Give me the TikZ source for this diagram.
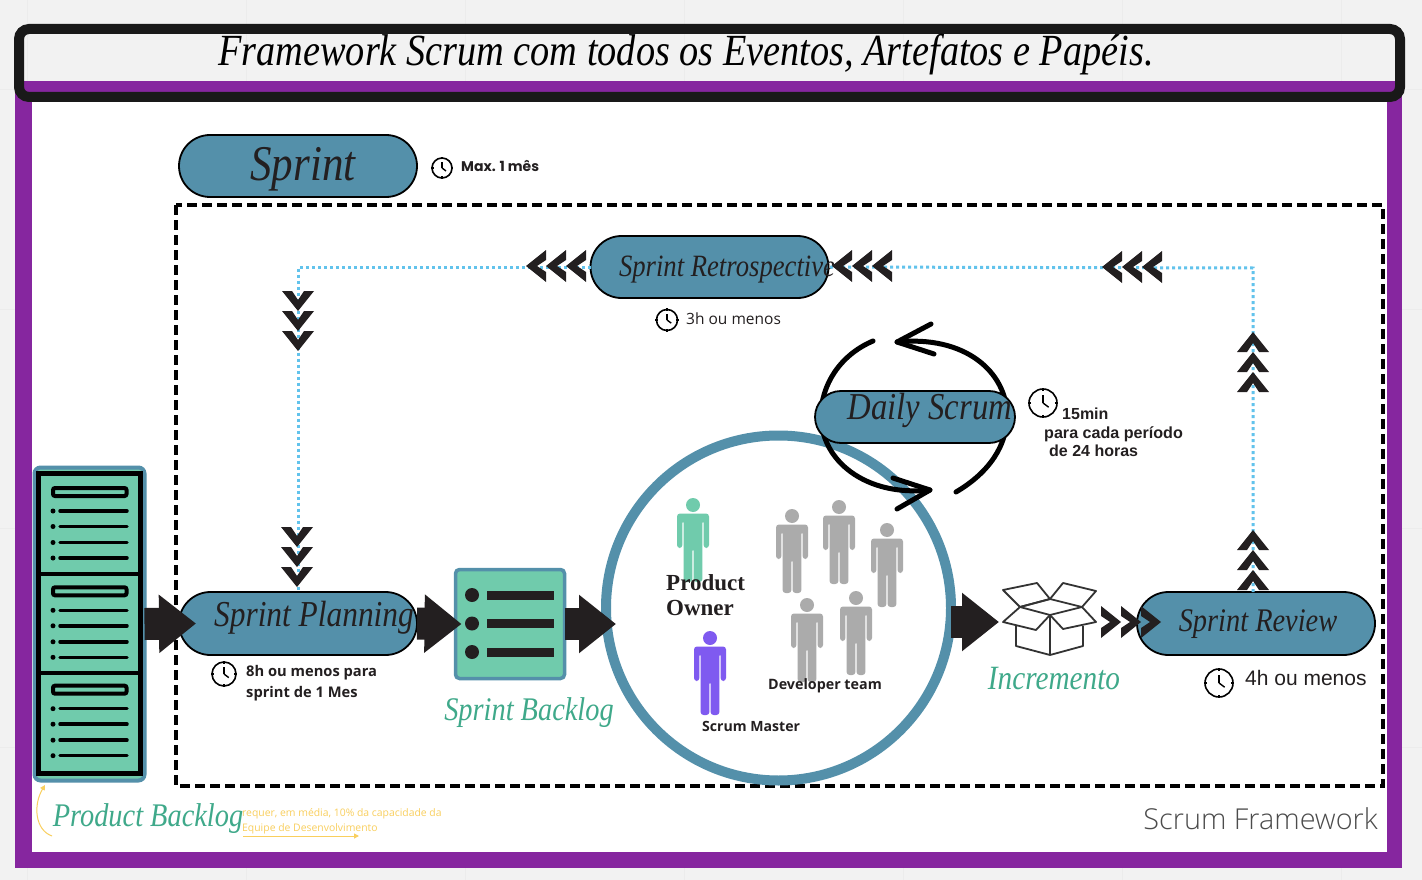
\documentclass[tikz,border=0pt]{standalone}
\usepackage{fontspec}
\usepackage{tikz}
\usetikzlibrary{shapes.misc,arrows.meta}
\setmainfont{Open Sans}
\newfontfamily\handfont[FakeStretch=0.86]{Liberation Serif Italic}
\newfontfamily\arialfont{Liberation Sans}
\newfontfamily\timesfont{Liberation Serif}
\newfontfamily\popfont{Poppins}
\newcommand{\fs}[1]{\fontsize{#1}{#1}\selectfont}
\definecolor{pillblue}{HTML}{5490AA}
\definecolor{iconGreen}{HTML}{70CBAC}
\definecolor{labelGreen}{HTML}{3FA98A}
\definecolor{framePurple}{HTML}{86269F}
\definecolor{dotBlue}{HTML}{62C3EC}
\definecolor{arrowBlack}{HTML}{231F20}
\definecolor{noteYellow}{HTML}{F9CF5E}
\definecolor{paperGrey}{HTML}{F2F2F2}
\definecolor{masterPurple}{HTML}{7F5AF0}
\tikzset{
  pill/.style={rounded rectangle,draw=black,line width=1.8pt,fill=pillblue,inner sep=0pt,outer sep=0pt},
  hand/.style={inner sep=0pt,text=arrowBlack},
  greenhand/.style={inner sep=0pt,text=labelGreen},
  note/.style={inner sep=0pt,text=arrowBlack,anchor=west,align=left},
  bigarrow/.style={line width=32pt,arrowBlack,-{Triangle[width=56pt,length=37pt]}},
  dotline/.style={line width=3pt,dotBlue,dash pattern=on 3pt off 3pt},
  looparc/.style={line width=5pt,black,line cap=round,line join=round},
  pics/chevs/.style={code={
    \foreach \k in {-30,-10,10}
      \fill[arrowBlack,shift={(0,\k)}] (-16,0) -- (-6,0) -- (0,9) -- (6,0) -- (16,0) -- (0,20) -- cycle;
  }},
  pics/person/.style={code={
    \fill[#1] (0,0) circle (7);
    \fill[#1,rounded corners=3pt] (-16,43) -- (-16,8.5) -- (16,8.5) -- (16,43) -- (10.6,43) -- (10.6,15) -- (9.4,15)
      -- (9.4,77) -- (0.6,77) -- (0.6,43) -- (-0.6,43) -- (-0.6,77) -- (-9.4,77) -- (-9.4,15) -- (-10.6,15) -- (-10.6,43) -- cycle;
  }},
  pics/clock/.style={code={
    \draw[black,line width=1.6pt] (0,0) circle (10);
    \draw[black,line width=1.4pt] (0,0) -- (0,-6);
    \draw[black,line width=1.4pt] (0,0) -- (4,3);
    \foreach \a in {0,90,180,270}
      \draw[black,line width=1.4pt] (\a:8.5) -- (\a:11);
  }},
}
\begin{document}
\begin{tikzpicture}[x=1pt,y=-1pt]
   \useasboundingbox (0,0) rectangle (1422,880);
   \fill[paperGrey] (0,0) rectangle (1422,880);
   \foreach \g in {27,246,465,684,903,1122,1341}
     \draw[gray!15,line width=1pt] (\g,0) -- (\g,880);
   \foreach \g in {90,309,528,747}
     \draw[gray!15,line width=1pt] (0,\g) -- (1422,\g);
   \fill[framePurple] (15,81) rectangle (1402,868);
   \fill[white] (32,100) rectangle (1387,852);
   \node[draw=black!90,line width=10pt,rounded corners=10pt,minimum width=1381pt,minimum height=68pt,inner sep=0pt,outer sep=0pt] (titlebox) at (709.5,63) {};
   \node[hand,text=black] (titlet) at (686,55) {\handfont\fs{44.5}Framework Scrum com todos os Eventos, Artefatos e Papéis.};
   \draw[black,line width=3.5pt,dash pattern=on 10pt off 5pt] (176,205) rectangle (1383,786);

   \node[pill,minimum width=238pt,minimum height=62pt] (sprint) at (298,166) {};
   \node[hand] (sprintt) at (303,169) {\handfont\fs{50}Sprint};
   \pic at (442,168) {clock};
   \node[note] (sprintn) at (461,166) {\popfont\bfseries\fs{14}Max. 1 mês};

   \node[pill,minimum width=238pt,minimum height=62pt] (retro) at (709.5,267) {};
   \pic[scale=1.05] at (667,320) {clock};
   \node[note] (retron) at (686,319) {\fs{15.5}3h ou menos};

   \node[draw=pillblue,line width=10pt,circle,minimum size=345pt,inner sep=0pt,outer sep=0pt] (team) at (778.5,608) {};
   \draw[looparc] (873,341) .. controls (840,355) and (821,385) .. (821,416) .. controls (821,460) and (865,497) .. (930,490);
   \draw[looparc] (893,478) -- (930,490) -- (897,509);
   \draw[looparc] (956,492) .. controls (990,472) and (1007,445) .. (1007,416) .. controls (1007,372) and (965,335) .. (897,342);
   \draw[looparc] (931,324) -- (897,342) -- (934,354);
   \node[pill,minimum width=200pt,minimum height=52pt] (daily) at (915,417) {};
   \node[hand] (dailyt) at (930,410) {\handfont\fs{38}Daily Scrum};
   \pic[scale=1.4] at (1043,403) {clock};
   \node[note] (dailyn1) at (1062,414) {\arialfont\bfseries\fs{16}15min};
   \node[note] (dailyn2) at (1044,434) {\arialfont\bfseries\fs{16.1}para cada período};
   \node[note] (dailyn3) at (1049,451) {\arialfont\bfseries\fs{16}de 24 horas};

   \node[pill,minimum width=238pt,minimum height=63pt] (planning) at (298,623.5) {};
   \node[hand] (planningt) at (314,618) {\handfont\fs{36.5}Sprint Planning};
   \pic[scale=1.2] at (224,674) {clock};
   \node[note] (planningn) at (246,683.5) {\bfseries\fs{14.7}\begin{tabular}{@{}l@{}}8h ou menos para\\[5pt]sprint de 1 Mes\end{tabular}};

   \node[pill,minimum width=238pt,minimum height=63pt] (review) at (1256,623.5) {};
   \node[hand] (reviewt) at (1258,624) {\handfont\fs{33}Sprint Review};
   \pic[scale=1.4] at (1219,683) {clock};
   \node[note] (reviewn) at (1245,678) {\arialfont\fs{21}4h ou menos};

   \node[hand] (retrot) at (727,270) {\handfont\fs{31}Sprint Retrospective};

   \node[draw=pillblue,line width=3.5pt,fill=iconGreen,rounded corners=4pt,minimum size=109pt,inner sep=0pt,outer sep=0pt] (sbacklog) at (510,624) {};
   \foreach \y in {595,623.5,652} {
     \fill[arrowBlack] (472,\y) circle (7);
     \fill[arrowBlack] (487,\y-4.5) rectangle (554,\y+4.5);
   }
   \node[greenhand] (sbacklogt) at (529,713) {\handfont\fs{33}Sprint Backlog};

   \node[draw=pillblue,line width=4pt,fill=iconGreen,rounded corners=6pt,minimum width=110pt,minimum height=313pt,inner sep=0pt,outer sep=0pt] (pbacklog) at (89.5,624) {};
   \draw[black,line width=5pt] (38.5,473.5) rectangle (140.5,773.5);
   \draw[black,line width=4.5pt] (38,574) -- (141,574) (38,673) -- (141,673);
   \foreach \o in {0,99.3,197.7} {
     \begin{scope}[shift={(0,\o)}]
       \draw[black,line width=4pt,rounded corners=2pt] (53,488) rectangle (126.5,496);
       \foreach \y in {511,526.5,542.5,558} {
         \fill[black] (53,\y) circle (2.5);
         \draw[black,line width=3.5pt,line cap=round] (60,\y) -- (127,\y);
       }
     \end{scope}
   }
   \node[greenhand] (pbacklogt) at (148,819) {\handfont\fs{33}Product Backlog};
   \node[note,text=noteYellow] (pbacklogn1) at (242,814) {\fs{10.4}requer, em média, 10\% da capacidade da};
   \node[note,text=noteYellow] (pbacklogn2) at (242,829) {\fs{10.4}Equipe de Desenvolvimento};
   \coordinate (noteend) at (359,836);
   \coordinate (notestart) at (243,836);
   \draw[noteYellow,line width=1pt,-{Triangle[width=5pt,length=5pt]}] (notestart) -- (noteend);
   \draw[noteYellow,line width=1pt,-{Triangle[width=5pt,length=5pt]}] (52,836) .. controls (35,830) and (33,805) .. (45,785);

   \pic at (693,505) {person=iconGreen};
   \pic at (710,638) {person=masterPurple};
   \pic at (792,516) {person=black!33};
   \pic at (839,507) {person=black!33};
   \pic at (887,530) {person=black!33};
   \pic at (807,605) {person=black!33};
   \pic at (856,598) {person=black!33};
   \node[note,text=arrowBlack] (pot) at (666,598) {\timesfont\bfseries\fs{23}\begin{tabular}{@{}l@{}}Product\\[2pt]Owner\end{tabular}};
   \node[note] (smt) at (702,726) {\bfseries\fs{14.1}Scrum Master};
   \node[note] (devt) at (768,685.5) {\bfseries\fs{14.3}Developer team};

   \node[minimum width=102pt,minimum height=72pt,inner sep=0pt,outer sep=0pt] (inc) at (1050,622) {};
   \begin{scope}[draw=black!80,line width=1.8pt,line join=round]
     \draw (1020,607) -- (1050,599) -- (1082,607) -- (1050,615) -- cycle;
     \draw (1003,590) -- (1037,583) -- (1050,599) -- (1020,607) -- cycle;
     \draw (1050,599) -- (1063,583) -- (1096,591) -- (1082,607);
     \draw (1020,607) -- (1003,622) -- (1036,630) -- (1050,615);
     \draw (1050,615) -- (1063,629) -- (1096,622) -- (1082,607);
     \draw (1016,626) -- (1016,646) -- (1050,655) -- (1083,646) -- (1083,626);
     \draw (1050,615) -- (1050,655);
   \end{scope}
   \node[greenhand] (inct) at (1054,679) {\handfont\fs{34}Incremento};
   \node[inner sep=0pt,text=black!70,anchor=east] (fwt) at (1378,819) {\fontspec{Open Sans Light}\fs{28.8}Scrum Framework};

   \coordinate (cr) at (1253,268);
   \coordinate (cl) at (298,267);
   \draw[dotline] (cr |- review.north) -- (cr) -- (retro.east);
   \draw[dotline] (retro.west) -- (cl) -- (cl |- planning.north);

   \draw[bigarrow] (pbacklog.east) -- ([xshift=17pt]planning.west);
   \draw[bigarrow] (planning.east) -- ([xshift=6pt]sbacklog.west);
   \draw[bigarrow] (sbacklog.east) -- ([xshift=10pt]team.west |- sbacklog.east);
   \draw[bigarrow] (team.east |- inc.west) -- (inc.west);

   \pic at (298,321) {chevs};
   \pic at (297,557) {chevs};
   \pic[rotate=-90] at (556,266) {chevs};
   \pic[rotate=-90] at (862,266) {chevs};
   \pic[rotate=-90] at (1132,267) {chevs};
   \pic[rotate=180] at (1253,362) {chevs};
   \pic[rotate=180] at (1253,560) {chevs};
   \pic[rotate=90] at (1131,622) {chevs};
\end{tikzpicture}
\end{document}
